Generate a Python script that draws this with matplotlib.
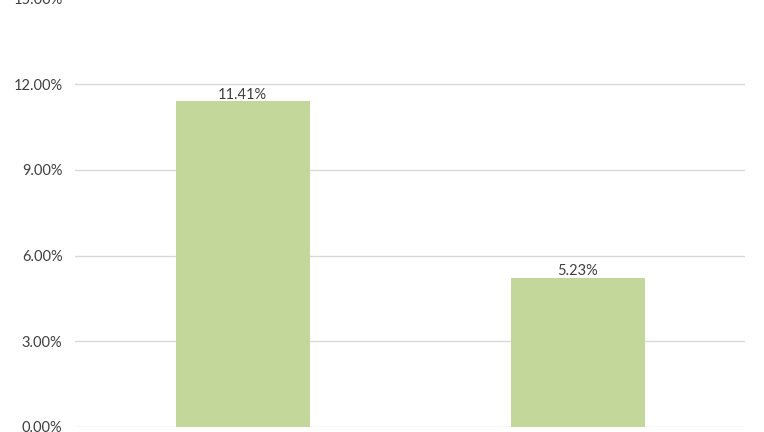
import matplotlib.pyplot as plt
import numpy as np

categories = ["A", "B"]
values = [11.41, 5.23]
yticks = [0, 3, 6, 9, 12, 15]

plt.rcParams['font.family'] = ['Lato', 'DejaVu Sans']

fig = plt.figure(figsize=(7.64, 4.32), dpi=100)
ax = fig.add_axes([0.0982, 0.0116, 0.8770, 0.9924])

x = np.arange(len(categories))
bars = ax.bar(x, values, width=0.4, color='#C4D79B', zorder=2)

for xi, v in zip(x, values):
    ax.annotate(f"{v:.2f}%", (xi, v), xytext=(0, 1.5), textcoords='offset points',
                ha='center', va='baseline', fontsize=10.5, color='#404040')

ax.set_xlim(-0.5, 1.5)
ax.set_ylim(0, 15)
ax.set_yticks(yticks)
ax.set_yticklabels([f"{t:.2f}%" for t in yticks], fontsize=10.5, color='#404040')
ax.set_xticks([])
ax.tick_params(axis='y', length=0, pad=9)
ax.yaxis.grid(True, color='#D9D9D9', linewidth=1, zorder=0)
ax.set_axisbelow(True)
for s in ax.spines.values():
    s.set_visible(False)

fig.savefig('out.png', dpi=100)
